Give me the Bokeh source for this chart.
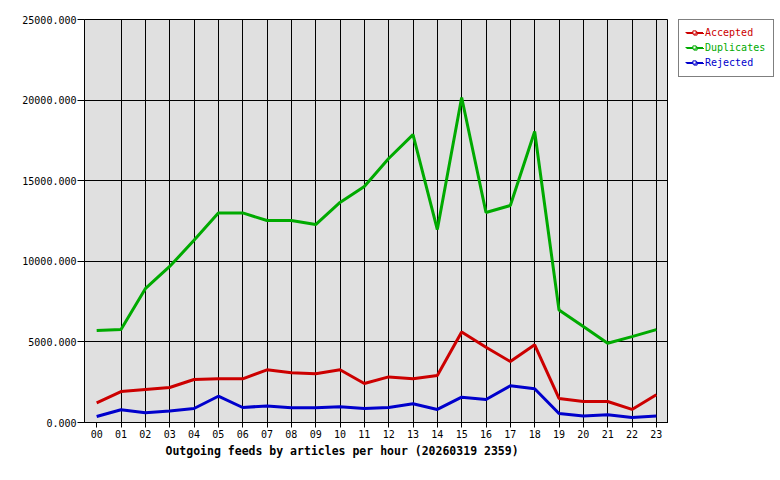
from bokeh.plotting import figure
from bokeh.layouts import row
from bokeh.models import (Legend, LegendItem, FixedTicker, NumeralTickFormatter,
                          Title, Range1d, FactorRange)
from bokeh.embed import file_html
from bokeh.resources import INLINE

hours = [f"{h:02d}" for h in range(24)]
accepted = [1220, 1920, 2050, 2170, 2670, 2710, 2710, 3270, 3080, 3020, 3270, 2420,
            2830, 2710, 2920, 5620, 4670, 3780, 4820, 1490, 1300, 1300, 810, 1720]
duplicates = [5700, 5770, 8300, 9680, 11300, 13000, 13000, 12530, 12530, 12280, 13650, 14640,
              16380, 17860, 11970, 20160, 13030, 13460, 18050, 6980, 5950, 4920, 5330, 5760]
rejected = [370, 790, 600, 720, 870, 1630, 930, 1030, 910, 910, 970, 870,
            930, 1160, 810, 1570, 1430, 2280, 2090, 560, 410, 480, 310, 410]
y_ticks = [0, 5000, 10000, 15000, 20000, 25000]
series_names = ["Accepted", "Duplicates", "Rejected"]
series_colors = ["#cc0000", "#00aa00", "#0000cc"]
title_text = "Outgoing feeds by articles per hour (20260319 2359)"

FONT = "DejaVu Sans Mono"

p = figure(width=668, height=480, x_range=FactorRange(*hours),
           y_range=Range1d(0, 25000), output_backend="svg", toolbar_location=None,
           min_border_left=84, min_border_right=0, min_border_top=19,
           min_border_bottom=58)
p.background_fill_color = "#e0e0e0"
p.border_fill_color = "white"
p.outline_line_color = "black"
p.outline_line_width = 1

for g in (p.xgrid, p.ygrid):
    g.grid_line_color = "black"
    g.grid_line_width = 1
p.yaxis.ticker = FixedTicker(ticks=y_ticks)
p.yaxis.formatter = NumeralTickFormatter(format="0.000")
for ax in (p.xaxis, p.yaxis):
    ax.axis_line_color = "black"
    ax.major_tick_line_color = "black"
    ax.minor_tick_line_color = None
    ax.major_tick_in = 0
    ax.major_label_text_font = FONT
    ax.major_label_text_font_size = "10px"
    ax.major_label_text_color = "black"
p.yaxis.major_tick_out = 7
p.yaxis.major_label_standoff = 1
p.xaxis.major_tick_out = 5
p.xaxis.major_label_standoff = 2

data = [accepted, duplicates, rejected]
for vals, color in zip(data, series_colors):
    p.line(x=hours, y=vals, line_color=color, line_width=3)

p.add_layout(Title(text=title_text, align="left", offset=81, text_font=FONT,
                   text_font_style="bold", text_font_size="11.5px",
                   text_color="black", standoff=3), "below")

# legend panel (right of the plot)
lf = figure(width=112, height=480, x_range=hours, y_range=Range1d(0, 25000),
            output_backend="svg", toolbar_location=None, x_axis_type=None,
            y_axis_type=None, min_border_left=10, min_border_right=0,
            min_border_top=19, min_border_bottom=0, outline_line_color=None)
lf.grid.visible = False
lf.background_fill_color = "white"
lf.border_fill_color = "white"
items = []
for name, vals, color in zip(series_names, data, series_colors):
    lr = lf.line(x=hours, y=vals, line_color=color, line_width=1, visible=False)
    mr = lf.scatter(x=hours, y=vals, marker="square", size=4, fill_color="white",
                    line_color=color, visible=False)
    items.append(LegendItem(label=name, renderers=[lr, mr]))
dummy = lf.line(x=hours, y=accepted, line_alpha=0, visible=False)

common = dict(location="top_left", margin=0, padding=7, spacing=3, label_height=12,
              glyph_height=8, glyph_width=18, label_standoff=2,
              label_text_font=FONT, label_text_font_size="10px")
main = Legend(items=items, border_line_color="black", border_line_width=1,
              background_fill_color="white", background_fill_alpha=1,
              label_text_alpha=0, **common)
lf.add_layout(main)
for i, (it, color) in enumerate(zip(items, series_colors)):
    its = [LegendItem(label=" ", renderers=[dummy]) for _ in range(i)]
    its.append(LegendItem(label=it.label, renderers=it.renderers))
    lg = Legend(items=its, border_line_alpha=0, background_fill_alpha=0,
                label_text_color=color, **common)
    lf.add_layout(lg)

layout = row(p, lf, spacing=0)
open("out.html", "w").write(file_html(layout, INLINE))
